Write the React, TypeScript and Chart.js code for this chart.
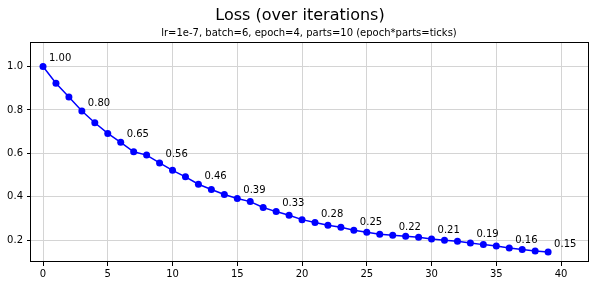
import React, { useEffect, useRef } from "react";
import { Chart, registerables } from "chart.js";

Chart.register(...registerables);

const TITLE = "Loss (over iterations)";
const SUBTITLE = "lr=1e-7, batch=6, epoch=4, parts=10 (epoch*parts=ticks)";

const ITERATIONS = [
  0, 1, 2, 3, 4, 5, 6, 7, 8, 9,
  10, 11, 12, 13, 14, 15, 16, 17, 18, 19,
  20, 21, 22, 23, 24, 25, 26, 27, 28, 29,
  30, 31, 32, 33, 34, 35, 36, 37, 38, 39,
];

const LOSS = [
  1.0, 0.923, 0.859, 0.795, 0.741, 0.692, 0.651, 0.607, 0.592, 0.556,
  0.522, 0.492, 0.458, 0.434, 0.411, 0.392, 0.378, 0.351, 0.332, 0.315,
  0.295, 0.282, 0.269, 0.26, 0.246, 0.237, 0.228, 0.223, 0.218, 0.214,
  0.206, 0.2, 0.195, 0.188, 0.18, 0.174, 0.164, 0.158, 0.151, 0.146,
];

const X_TICKS = [0, 5, 10, 15, 20, 25, 30, 35, 40];
const Y_TICKS = [0.2, 0.4, 0.6, 0.8, 1.0];
const ANNOTATE_EVERY = 3;

const FONT = "'DejaVu Sans', sans-serif";

const decorPlugin = {
  id: "decor",
  afterDraw(chart: any) {
    const { ctx, chartArea: a } = chart;
    ctx.save();
    // spines
    ctx.strokeStyle = "#000";
    ctx.lineWidth = 1;
    ctx.strokeRect(
      Math.round(a.left) - 0.5,
      Math.round(a.top) - 0.5,
      Math.round(a.right) - Math.round(a.left) + 1,
      Math.round(a.bottom) - Math.round(a.top)
    );
    // titles
    ctx.fillStyle = "#000";
    ctx.textAlign = "center";
    ctx.textBaseline = "alphabetic";
    ctx.font = `16px ${FONT}`;
    ctx.fillText(TITLE, 300, 20);
    ctx.font = `10px ${FONT}`;
    ctx.fillText(SUBTITLE, (a.left + a.right) / 2 - 0.5, 36);
    // annotations
    const meta = chart.getDatasetMeta(0);
    ctx.textAlign = "left";
    ctx.font = `10px ${FONT}`;
    meta.data.forEach((pt: any, i: number) => {
      if (i % ANNOTATE_EVERY !== 0) return;
      ctx.fillText(LOSS[i].toFixed(2), pt.x + 6, pt.y - 5.5);
    });
    ctx.restore();
  },
};

export default function App() {
  const ref = useRef<HTMLCanvasElement | null>(null);

  useEffect(() => {
    if (!ref.current) return;
    const tickFont = { family: FONT, size: 10 };
    const chart = new Chart(ref.current, {
      type: "line",
      data: {
        datasets: [
          {
            data: ITERATIONS.map((x, i) => ({ x, y: LOSS[i] })),
            borderColor: "#0000ff",
            backgroundColor: "#0000ff",
            borderWidth: 1.5,
            pointRadius: 3.5,
            pointBorderWidth: 0,
            pointBackgroundColor: "#0000ff",
            tension: 0,
            clip: false as any,
          },
        ],
      },
      options: {
        animation: false,
        responsive: false,
        devicePixelRatio: 1,
        layout: { padding: { top: 43, right: 7, left: 0, bottom: 0 } },
        plugins: {
          legend: { display: false },
          title: { display: false },
          tooltip: { enabled: false },
        },
        scales: {
          x: {
            type: "linear",
            min: -0.927,
            max: 42.08,
            afterFit: (s: any) => {
              s.height = 24;
            },
            afterBuildTicks: (s: any) => {
              s.ticks = X_TICKS.map((v) => ({ value: v }));
            },
            border: { display: false },
            grid: {
              color: "#d4d4d4",
              lineWidth: 1,
              drawTicks: true,
              tickLength: 4,
              tickColor: "#000",
              tickWidth: 1,
            },
            ticks: {
              font: tickFont,
              color: "#000",
              padding: 2,
              maxRotation: 0,
              autoSkip: false,
              callback: (v: any) => String(v),
            },
          },
          y: {
            type: "linear",
            min: 0.1,
            max: 1.108,
            afterFit: (s: any) => {
              s.width = 31;
            },
            afterBuildTicks: (s: any) => {
              s.ticks = Y_TICKS.map((v) => ({ value: v }));
            },
            border: { display: false },
            grid: {
              color: "#d4d4d4",
              lineWidth: 1,
              drawTicks: true,
              tickLength: 4,
              tickColor: "#000",
              tickWidth: 1,
            },
            ticks: {
              font: tickFont,
              color: "#000",
              padding: 4,
              autoSkip: false,
              callback: (v: any) => Number(v).toFixed(1),
            },
          },
        },
      },
      plugins: [decorPlugin],
    });
    return () => chart.destroy();
  }, []);

  return (
    <div style={{ position: "fixed", left: 0, top: 0, width: 595, height: 286, background: "#fff" }}>
      <canvas ref={ref} width={595} height={286} style={{ display: "block" }} />
    </div>
  );
}
